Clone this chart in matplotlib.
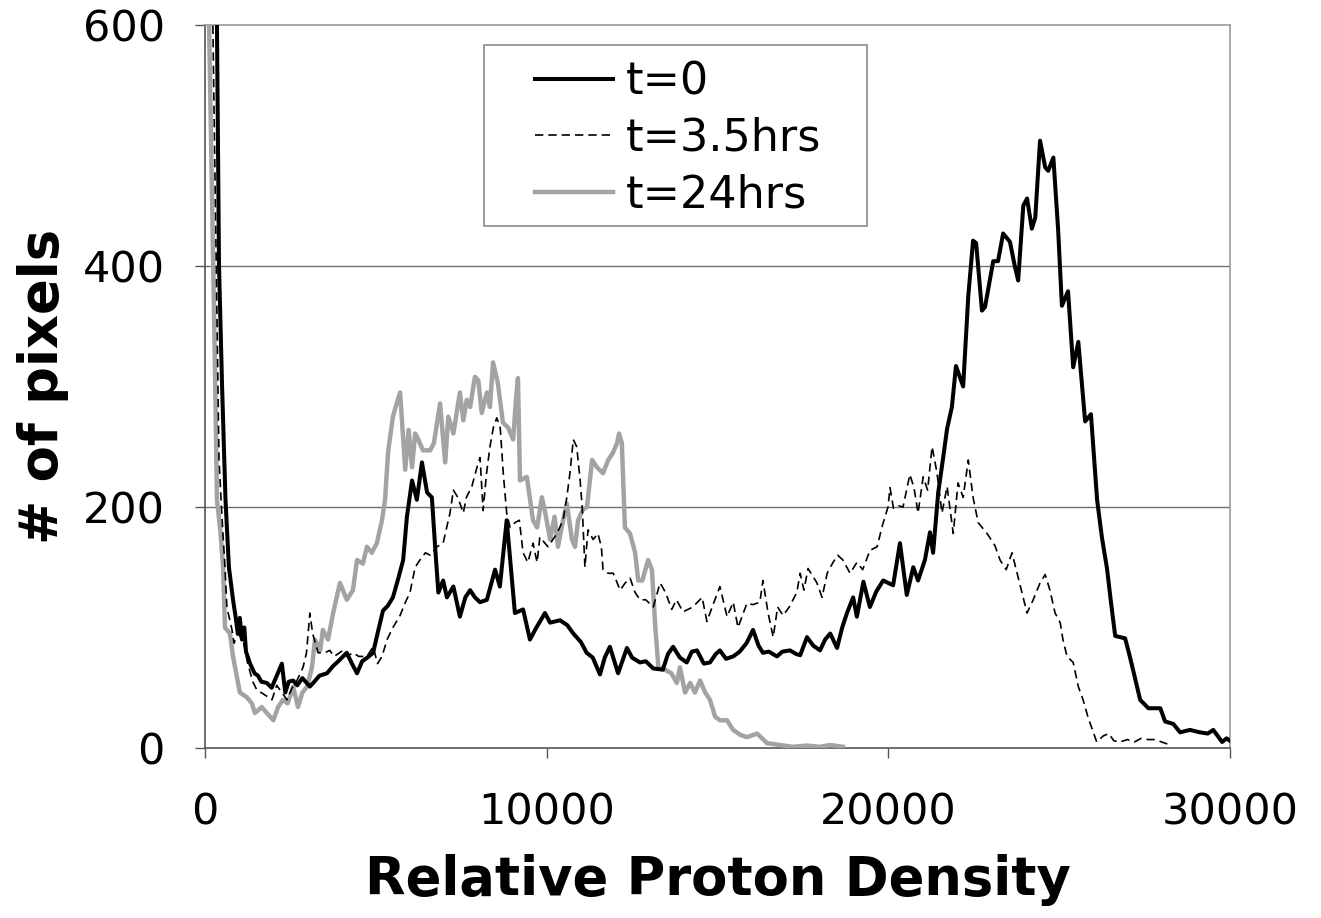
import matplotlib
matplotlib.use("Agg")
import matplotlib.pyplot as plt
from matplotlib.patches import Rectangle

# ---------------- data ----------------
x_t0 = [300, 350, 410, 500, 600, 700, 820, 900, 960, 1020, 1080, 1150, 1200, 1320, 1450, 1550, 1650, 1810, 1950,
        2100, 2250, 2350, 2450, 2580, 2700, 2850, 3070, 3200, 3350, 3570, 3750, 3900, 4150, 4300, 4450, 4600, 4750,
        4920, 5050, 5210, 5350, 5500, 5650, 5800, 5910, 6060, 6200, 6350, 6500, 6640, 6740, 6830, 6970, 7080, 7270,
        7460, 7620, 7760, 7900, 8050, 8250, 8490, 8630, 8830, 8950, 9070, 9310, 9510, 9700, 9950, 10100, 10390,
        10600, 10780, 11000, 11170, 11350, 11560, 11700, 11850, 12090, 12350, 12500, 12730, 12900, 13120, 13400,
        13550, 13700, 13900, 14100, 14250, 14400, 14600, 14780, 14950, 15070, 15250, 15460, 15650, 15850, 16040,
        16200, 16330, 16500, 16740, 16900, 17120, 17300, 17420, 17620, 17800, 18000, 18150, 18300, 18500, 18650,
        18790, 18970, 19080, 19270, 19460, 19650, 19850, 20140, 20340, 20540, 20730, 20870, 21070, 21220, 21310,
        21460, 21600, 21720, 21860, 21980, 22190, 22340, 22480, 22570, 22740, 22830, 23070, 23210, 23360, 23560,
        23700, 23800, 23950, 24060, 24200, 24300, 24440, 24590, 24680, 24830, 24970, 25080, 25260, 25410, 25560,
        25760, 25930, 26110, 26250, 26400, 26520, 26640, 26930, 27050, 27170, 27370, 27610, 27960, 28100, 28340,
        28540, 28830, 29120, 29350, 29510, 29770, 29900, 30000]
y_t0 = [800, 600, 400, 300, 206, 150, 123, 108, 95, 108, 90, 100, 80, 70, 62, 60, 55, 54, 50,
        60, 70, 46, 55, 56, 52, 58, 51, 55, 60, 62, 68, 72, 79, 70, 62, 72, 75,
        79, 95, 114, 118, 125, 140, 156, 192, 222, 206, 237, 212, 208, 165, 129, 139, 125, 134,
        109, 125, 131, 125, 121, 123, 148, 134, 189, 150, 112, 115, 90, 100, 112, 104, 106,
        102, 95, 88, 79, 75, 61, 75, 84, 62, 83, 75, 71, 72, 66, 65,
        78, 84, 75, 71, 80, 81, 70, 71, 78, 81, 74, 76, 80, 87, 98,
        85, 79, 80, 76, 80, 81, 78, 77, 92, 85, 81, 90, 95, 83, 100,
        112, 125, 109, 138, 117, 130, 139, 135, 170, 127, 150, 139, 156, 179, 162,
        212, 240, 265, 283, 317, 300, 375, 421, 419, 363, 366, 404, 404, 427, 420,
        400, 388, 450, 456, 431, 440, 504, 482, 479, 490, 430, 367, 379, 316, 337,
        271, 277, 206, 175, 149, 120, 93, 91, 78, 64, 40, 33, 33, 22, 20,
        13, 15, 13, 12, 15, 5, 8, 6]

x_t35 = [150, 230, 330, 410, 500, 585, 640, 790, 850, 950, 1110, 1250, 1400, 1520, 1700, 1960, 2100, 2200, 2400,
         2550, 2690, 2870, 2970, 3070, 3150, 3310, 3500, 3650, 3780, 4040, 4150, 4330, 4500, 4740, 4920, 5050,
         5180, 5330, 5500, 5710, 5850, 6000, 6150, 6290, 6450, 6590, 6790, 6970, 7170, 7270, 7400, 7560, 7650,
         7810, 7960, 8050, 8140, 8240, 8340, 8440, 8540, 8640, 8730, 8830, 8930, 9070, 9200, 9310, 9450, 9600,
         9720, 9800, 10040, 10300, 10480, 10590, 10680, 10780, 10880, 10980, 11040, 11120, 11210, 11360, 11500,
         11600, 11650, 11800, 11950, 12150, 12300, 12440, 12590, 12730, 12900, 13120, 13320, 13480, 13660, 13800,
         13990, 14280, 14550, 14690, 14870, 15070, 15280, 15460, 15600, 15860, 16040, 16240, 16330, 16480, 16630,
         16760, 16920, 17100, 17320, 17420, 17530, 17650, 17910, 18060, 18210, 18380, 18520, 18670, 18880, 19080,
         19250, 19460, 19670, 19830, 19990, 20050, 20150, 20300, 20430, 20630, 20750, 20870, 21020, 21150, 21280,
         21420, 21570, 21720, 21900, 22040, 22190, 22340, 22480, 22630, 22890, 23120, 23270, 23450, 23620, 23770,
         23910, 24060, 24240, 24440, 24590, 24730, 24880, 25030, 25110, 25230, 25410, 25560, 25700, 25850, 26000,
         26100, 26290, 26450, 26600, 26780, 27000, 27200, 27400, 27600, 27800, 28000, 28200]
y_t35 = [800, 600, 400, 239, 190, 150, 117, 98, 87, 95, 90, 70, 55, 48, 45, 40, 52, 48, 40,
         50, 56, 67, 79, 112, 95, 79, 79, 81, 76, 81, 76, 79, 76, 76, 84, 70,
         76, 90, 100, 110, 120, 129, 150, 156, 162, 160, 167, 170, 195, 214, 208, 195, 208,
         217, 233, 241, 197, 228, 250, 266, 274, 266, 228, 195, 183, 187, 189, 162, 154, 170,
         154, 175, 167, 178, 189, 208, 228, 256, 250, 222, 200, 150, 181, 173, 178,
         167, 148, 145, 145, 131, 137, 141, 129, 123, 123, 117, 137, 129, 115, 123,
         113, 117, 125, 105, 119, 134, 109, 121, 100, 120, 119, 121, 139, 112, 92,
         117, 110, 117, 129, 145, 131, 149, 137, 125, 145, 154, 160, 156, 145, 154,
         148, 164, 167, 185, 200, 216, 199, 201, 200, 227, 216, 195, 225, 214, 250,
         229, 195, 217, 178, 220, 208, 239, 208, 187, 178, 168, 156, 148, 162, 145,
         129, 112, 123, 137, 144, 131, 112, 104, 90, 76, 71, 51, 40, 25, 13,
         5, 10, 12, 6, 5, 7, 5, 8, 7, 7, 5, 3]

x_t24 = [90, 120, 180, 235, 300, 350, 450, 530, 585, 730, 820, 1020, 1230, 1370, 1460, 1660, 1810, 2000, 2140,
         2280, 2420, 2580, 2720, 2850, 2990, 3130, 3220, 3370, 3450, 3600, 3750, 3950, 4150, 4330, 4450, 4620,
         4740, 4880, 5030, 5180, 5270, 5360, 5500, 5600, 5710, 5860, 5960, 6060, 6150, 6240, 6380, 6590, 6700,
         6880, 7030, 7120, 7270, 7460, 7560, 7660, 7760, 7900, 8000, 8100, 8250, 8340, 8430, 8570, 8720, 8870,
         9020, 9100, 9160, 9220, 9420, 9600, 9720, 9860, 9960, 10100, 10230, 10330, 10480, 10590, 10740, 10830,
         10920, 11060, 11180, 11330, 11470, 11650, 11800, 11940, 12060, 12120, 12200, 12290, 12440, 12590, 12680,
         12800, 12970, 13080, 13180, 13270, 13460, 13650, 13810, 13900, 14050, 14200, 14340, 14490, 14640, 14780,
         14930, 15070, 15280, 15460, 15660, 15860, 16160, 16450, 16830, 17200, 17620, 18000, 18300, 18670]
y_t24 = [800, 600, 500, 413, 300, 206, 180, 150, 100, 95, 76, 46, 42, 37, 29, 34, 29, 23, 34,
         40, 37, 51, 34, 46, 51, 67, 90, 81, 98, 90, 112, 137, 123, 131, 156, 153,
         167, 162, 170, 189, 206, 246, 275, 285, 295, 231, 264, 233, 261, 256, 247, 247, 253,
         286, 237, 275, 261, 295, 272, 289, 283, 308, 305, 278, 295, 283, 320, 303, 270, 266,
         256, 289, 307, 222, 225, 189, 183, 208, 195, 173, 192, 167, 189, 203, 173, 167,
         189, 198, 200, 239, 233, 228, 239, 245, 253, 261, 253, 183, 178, 162, 139,
         139, 156, 148, 100, 67, 65, 62, 54, 67, 46, 54, 46, 56, 46, 40,
         26, 23, 23, 15, 11, 9, 12, 4, 2.5, 1, 2, 1, 2.5, 1]

series_labels = ["t=0", "t=3.5hrs", "t=24hrs"]
x_ticks = [0, 10000, 20000, 30000]
y_ticks = [0, 200, 400, 600]

# ---------------- figure ----------------
plt.rcParams['font.family'] = ['DejaVu Sans']
fig = plt.figure(figsize=(13.21, 9.18), dpi=100)
ax = fig.add_axes([205/1321, 1-748/918, (1230-205)/1321, (748-25)/918])

ax.plot(x_t24, y_t24, color="#a3a3a3", lw=3.2, label=series_labels[2], zorder=3)
ax.plot(x_t35, y_t35, color="black", lw=1.2, linestyle=(0, (5, 3)), label=series_labels[1], zorder=4)
ax.plot(x_t0, y_t0, color="black", lw=2.9, label=series_labels[0], zorder=5)

ax.set_xlim(0, 30000)
ax.set_ylim(0, 600)
ax.set_xticks(x_ticks)
ax.set_yticks(y_ticks)
ax.set_xticklabels([str(v) for v in x_ticks])
ax.set_yticklabels([str(v) for v in y_ticks])

for y in [200, 400]:
    ax.axhline(y, color="#6e6e6e", lw=1.0, zorder=1)

for side in ["top", "right"]:
    ax.spines[side].set_color("#9a9a9a")
    ax.spines[side].set_linewidth(1.2)
for side in ["left", "bottom"]:
    ax.spines[side].set_color("#555555")
    ax.spines[side].set_linewidth(1.2)

ax.tick_params(axis="both", direction="out", length=7, width=1.0, color="#555555",
               labelsize=31, pad=22)
ax.tick_params(axis="x", pad=24)

ax.set_xlabel("Relative Proton Density", fontsize=38, fontweight="bold", labelpad=15)
ax.set_ylabel("# of pixels", fontsize=38, fontweight="bold", labelpad=10)

# legend frame
ax.add_patch(Rectangle((0.272, 0.722), 0.646 - 0.272, 0.972 - 0.722, transform=ax.transAxes,
                       facecolor="white", edgecolor="#8a8a8a", lw=1.2, zorder=6))

handles, labels = ax.get_legend_handles_labels()
order = [2, 1, 0]
leg = ax.legend([handles[i] for i in order], [labels[i] for i in order],
                loc="upper left", bbox_to_anchor=(0.322, 0.951), borderaxespad=0,
                fontsize=32, frameon=False, handlelength=1.75,
                handletextpad=0.3, labelspacing=0.3, borderpad=0.0)
leg.set_zorder(7)

fig.savefig("out.png", dpi=100)
